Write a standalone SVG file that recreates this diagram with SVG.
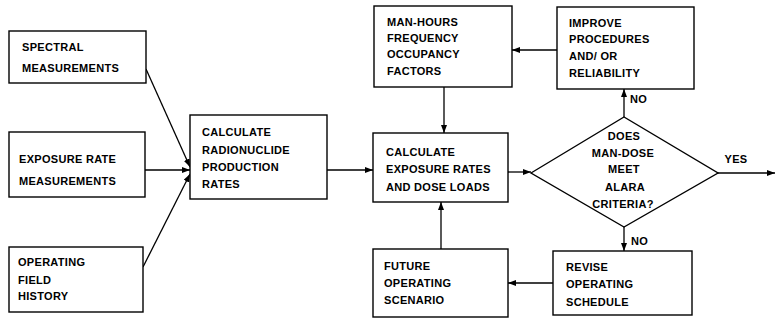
<svg xmlns="http://www.w3.org/2000/svg" width="775" height="321" viewBox="0 0 775 321">
<style>
.box{fill:#fff;stroke:#000;stroke-width:1.4}
.t{font-family:"Liberation Sans",Arial,sans-serif;font-weight:bold;font-size:11px;fill:#000;letter-spacing:0.3px}
.c{text-anchor:middle}
.ln{stroke:#000;stroke-width:1.3;fill:none;marker-end:url(#ah)}
</style>
<defs>
<marker id="ah" markerUnits="userSpaceOnUse" markerWidth="9" markerHeight="7" refX="8" refY="3" orient="auto">
<path d="M0,0 L8,3 L0,6 z" fill="#000"/>
</marker>
</defs>
<rect width="775" height="321" fill="#fff"/>
<g id="connectors">
<line class="ln" x1="146" y1="69" x2="190" y2="167"/>
<line class="ln" x1="145" y1="170" x2="190" y2="170"/>
<line class="ln" x1="143" y1="267" x2="190" y2="174"/>
<line class="ln" x1="327" y1="170" x2="373" y2="170"/>
<line class="ln" x1="444" y1="87" x2="444" y2="133"/>
<line class="ln" x1="557" y1="50" x2="512" y2="50"/>
<line class="ln" x1="508" y1="172" x2="531" y2="172"/>
<line class="ln" x1="718" y1="173" x2="775" y2="173"/>
<line class="ln" x1="624" y1="117" x2="624" y2="89"/>
<line class="ln" x1="624" y1="227" x2="624" y2="251"/>
<line class="ln" x1="553" y1="283" x2="508" y2="283"/>
<line class="ln" x1="441" y1="249" x2="441" y2="202"/>
<text class="t" x="630" y="103">NO</text>
<text class="t" x="631" y="245">NO</text>
<text class="t c" x="736" y="163">YES</text>
</g>
<g id="spectral">
<rect class="box" x="9" y="31" width="137" height="52"/>
<text class="t" x="22" y="51">SPECTRAL</text>
<text class="t" x="22" y="72">MEASUREMENTS</text>
</g>
<g id="exposure">
<rect class="box" x="9" y="132" width="136" height="65"/>
<text class="t" x="19" y="163">EXPOSURE RATE</text>
<text class="t" x="19" y="185">MEASUREMENTS</text>
</g>
<g id="history">
<rect class="box" x="9" y="247" width="134" height="65"/>
<text class="t" x="18" y="266">OPERATING</text>
<text class="t" x="18" y="284">FIELD</text>
<text class="t" x="18" y="300">HISTORY</text>
</g>
<g id="radionuclide">
<rect class="box" x="190" y="115" width="137" height="84"/>
<text class="t" x="202" y="136">CALCULATE</text>
<text class="t" x="202" y="154">RADIONUCLIDE</text>
<text class="t" x="202" y="171">PRODUCTION</text>
<text class="t" x="202" y="188">RATES</text>
</g>
<g id="manhours">
<rect class="box" x="374" y="6" width="138" height="81"/>
<text class="t" x="387" y="26">MAN-HOURS</text>
<text class="t" x="387" y="42">FREQUENCY</text>
<text class="t" x="387" y="58">OCCUPANCY</text>
<text class="t" x="387" y="75">FACTORS</text>
</g>
<g id="improve">
<rect class="box" x="557" y="7" width="137" height="82"/>
<text class="t" x="569" y="27">IMPROVE</text>
<text class="t" x="569" y="43">PROCEDURES</text>
<text class="t" x="569" y="60">AND/ OR</text>
<text class="t" x="569" y="77">RELIABILITY</text>
</g>
<g id="calcexposure">
<rect class="box" x="373" y="133" width="135" height="69"/>
<text class="t" x="386" y="156">CALCULATE</text>
<text class="t" x="386" y="173">EXPOSURE RATES</text>
<text class="t" x="386" y="191">AND DOSE LOADS</text>
</g>
<g id="decision">
<polygon class="box" points="531,173 624,117 718,173 624,227"/>
<text class="t c" x="624" y="140">DOES</text>
<text class="t c" x="623" y="157">MAN-DOSE</text>
<text class="t c" x="624" y="173">MEET</text>
<text class="t c" x="625" y="191">ALARA</text>
<text class="t c" x="623" y="208">CRITERIA?</text>
</g>
<g id="revise">
<rect class="box" x="553" y="251" width="139" height="64"/>
<text class="t" x="566" y="271">REVISE</text>
<text class="t" x="566" y="288">OPERATING</text>
<text class="t" x="566" y="306">SCHEDULE</text>
</g>
<g id="future">
<rect class="box" x="373" y="249" width="135" height="68"/>
<text class="t" x="384" y="270">FUTURE</text>
<text class="t" x="384" y="287">OPERATING</text>
<text class="t" x="384" y="304">SCENARIO</text>
</g>
</svg>
